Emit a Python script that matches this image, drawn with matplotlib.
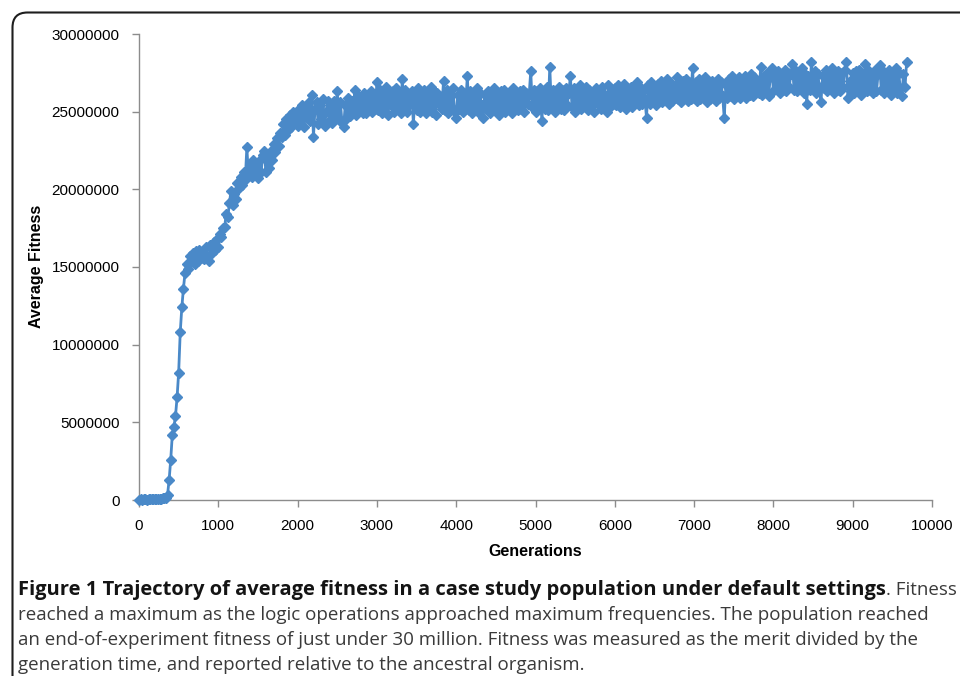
import matplotlib
matplotlib.use("Agg")
import matplotlib.pyplot as plt
from matplotlib.patches import FancyBboxPatch
from matplotlib.ticker import FuncFormatter

# Average fitness (in millions), one value every 20 generations
fit_0000 = [0.03, 0.05, 0.02, 0.06, 0.04, 0.03, 0.07, 0.05, 0.04, 0.06,
            0.05, 0.08, 0.06, 0.09, 0.07, 0.10, 0.12, 0.15, 0.35, 1.3,
            2.6, 4.2, 4.7, 5.4, 6.6, 8.2, 10.8, 12.4, 13.6, 14.6,
            15.2, 14.9, 15.7, 15.3, 15.9, 15.2, 16.0, 15.4, 16.1, 15.6,
            15.9, 15.5, 16.3, 15.7, 15.4, 16.4, 15.9, 16.6, 16.1, 16.8]
fit_1000 = [16.3, 17.1, 16.9, 17.5, 17.6, 18.4, 18.2, 19.1, 19.9, 19.0,
            19.7, 19.4, 20.4, 20.1, 20.8, 20.3, 21.1, 20.6, 22.7, 20.9,
            21.6, 20.8, 21.9, 21.0, 21.7, 20.7, 21.9, 21.1, 22.2, 22.5,
            21.1, 22.1, 21.4, 22.5, 21.9, 22.9, 22.4, 23.3, 22.8, 23.6,
            23.4, 24.2, 23.5, 24.5, 23.8, 24.8, 24.0, 25.0, 24.3, 24.9]
fit_2000 = [24.1, 25.2, 24.5, 25.4, 24.0, 25.3, 24.6, 25.6, 24.4, 26.1,
            23.4, 25.2, 25.6, 24.2, 25.4, 24.5, 25.8, 24.1, 25.0, 25.7,
            24.4, 25.5, 24.3, 25.7, 24.8, 26.3, 24.5, 25.6, 24.3, 24.0,
            25.4, 24.6, 25.9, 24.7, 25.7, 24.9, 26.4, 24.8, 26.0, 25.1,
            25.8, 24.9, 26.2, 24.9, 26.0, 25.3, 26.3, 25.0, 25.9, 25.2]
fit_3000 = [26.9, 25.1, 26.4, 24.9, 26.2, 25.3, 26.6, 24.8, 26.1, 25.4,
            26.3, 25.0, 26.5, 25.2, 26.2, 24.9, 27.1, 25.3, 26.4, 25.0,
            26.1, 25.5, 26.3, 24.2, 26.0, 25.1, 26.5, 25.0, 26.2, 25.4,
            26.4, 24.9, 26.1, 25.3, 26.6, 25.0, 26.3, 24.8, 26.2, 25.5,
            26.0, 25.2, 27.0, 25.1, 26.4, 24.9, 26.2, 25.3, 26.5, 25.0]
fit_4000 = [24.6, 26.1, 25.2, 26.4, 25.0, 26.2, 25.4, 27.3, 25.1, 26.3,
            24.9, 26.0, 25.3, 26.5, 25.0, 26.2, 25.4, 24.6, 26.1, 25.2,
            26.3, 24.9, 26.2, 25.3, 26.5, 25.1, 26.0, 24.8, 26.3, 25.2,
            26.4, 25.0, 26.2, 25.4, 26.1, 24.9, 26.5, 25.3, 26.0, 25.1,
            26.3, 25.2, 26.4, 25.0, 26.2, 25.5, 26.1, 27.6, 25.3, 26.4]
fit_5000 = [25.0, 26.3, 25.4, 26.5, 24.4, 26.2, 25.2, 26.6, 25.1, 27.9,
            25.3, 26.4, 25.0, 26.3, 25.5, 26.6, 25.2, 26.4, 25.1, 26.5,
            25.4, 26.2, 27.3, 25.3, 26.5, 25.0, 26.4, 25.4, 26.7, 25.2,
            26.3, 25.5, 26.6, 25.1, 26.4, 25.3, 26.2, 25.0, 26.5, 25.6,
            26.3, 25.2, 26.6, 25.4, 26.1, 25.0, 26.7, 25.3, 26.4, 25.5]
fit_6000 = [26.5, 25.4, 26.7, 25.3, 26.4, 25.6, 26.8, 25.2, 26.5, 25.5,
            26.6, 25.3, 26.4, 25.7, 26.9, 25.4, 26.6, 25.5, 26.3, 25.8,
            24.6, 26.7, 25.5, 26.9, 25.6, 26.5, 25.4, 26.8, 25.7, 27.0,
            25.6, 26.7, 25.8, 27.1, 25.5, 26.9, 25.7, 26.6, 25.9, 27.2,
            25.8, 26.8, 25.6, 27.0, 25.9, 27.1, 25.7, 26.9, 25.8, 27.8]
fit_7000 = [25.9, 26.9, 25.7, 27.1, 25.8, 26.8, 26.0, 27.2, 25.6, 26.9,
            25.8, 27.0, 26.1, 26.8, 25.7, 27.1, 25.9, 26.9, 26.0, 24.6,
            26.7, 25.9, 27.1, 26.0, 27.3, 25.8, 26.9, 26.1, 27.2, 25.9,
            27.0, 26.2, 27.3, 25.9, 27.1, 26.1, 27.4, 26.0, 27.2, 26.3,
            27.0, 26.2, 27.9, 26.1, 27.3, 26.4, 27.5, 26.0, 27.2, 27.8]
fit_8000 = [26.3, 27.4, 26.5, 27.6, 26.2, 27.3, 26.4, 27.7, 26.3, 27.5,
            26.6, 27.4, 28.1, 26.4, 27.6, 26.3, 27.5, 26.5, 27.8, 26.2,
            27.4, 25.5, 27.3, 26.4, 28.2, 26.5, 27.6, 26.2, 27.4, 26.6,
            25.6, 27.3, 26.5, 27.7, 26.3, 27.5, 26.6, 27.8, 26.2, 27.4,
            26.4, 27.6, 26.3, 27.5, 26.6, 27.7, 28.2, 25.9, 27.0, 26.3]
fit_9000 = [27.5, 26.2, 27.6, 26.4, 27.7, 26.1, 27.4, 26.5, 28.1, 26.3,
            27.6, 26.4, 27.5, 26.2, 27.7, 26.3, 27.4, 28.0, 26.4, 27.6,
            26.2, 27.5, 26.5, 27.7, 26.1, 27.4, 26.4, 27.8, 26.2, 27.5,
            26.5, 26.0, 27.4, 26.6, 28.2]

fitness_millions = (fit_0000 + fit_1000 + fit_2000 + fit_3000 + fit_4000 +
                    fit_5000 + fit_6000 + fit_7000 + fit_8000 + fit_9000)
generations = list(range(0, 20 * len(fitness_millions), 20))

x_ticks = [0, 1000, 2000, 3000, 4000, 5000, 6000, 7000, 8000, 9000, 10000]
y_ticks = [0, 5, 10, 15, 20, 25, 30]

caption_bold = "Figure 1 Trajectory of average fitness in a case study population under default settings"
caption_rest = ". Fitness"
caption_lines = [
    "reached a maximum as the logic operations approached maximum frequencies. The population reached",
    "an end-of-experiment fitness of just under 30 million. Fitness was measured as the merit divided by the",
    "generation time, and reported relative to the ancestral organism.",
]

W, H = 960, 676
fig = plt.figure(figsize=(W / 100, H / 100), dpi=100)
fig.patch.set_facecolor("white")

# rounded frame (display pixel coordinates, origin bottom-left)
frame = FancyBboxPatch((12.5, -60), 1100, H - 12.5 + 60,
                       boxstyle="round,pad=0,rounding_size=15",
                       transform=None, fill=False,
                       edgecolor="#1E1E1E", linewidth=1.5, clip_on=False)
fig.patches.append(frame)

ax = fig.add_axes([139 / W, 1 - 500 / H, (932 - 139) / W, (500 - 34) / H])
blue = "#4A89C8"
ax.plot(generations, fitness_millions, color=blue, linewidth=2.0,
        marker="D", markersize=5.5, markerfacecolor=blue,
        markeredgecolor=blue, clip_on=False, zorder=3)

ax.set_xlim(0, 10000)
ax.set_ylim(0, 30)
ax.set_xticks(x_ticks)
ax.set_yticks(y_ticks)
ax.yaxis.set_major_formatter(FuncFormatter(lambda v, p: f"{int(round(v * 1e6))}"))
for s in ["top", "right"]:
    ax.spines[s].set_visible(False)
for s in ["left", "bottom"]:
    ax.spines[s].set_color("#8C8C8C")
    ax.spines[s].set_linewidth(1.0)
ax.tick_params(axis="both", direction="out", length=5, width=1.0,
               color="#8C8C8C", labelsize=11, labelcolor="black")
ax.tick_params(axis="y", pad=9)
ax.tick_params(axis="x", pad=9)
for lbl in ax.get_xticklabels() + ax.get_yticklabels():
    lbl.set_fontfamily("Liberation Sans")

fig.text(37 / W, 1 - 266 / H, "Average Fitness", rotation=90, ha="center",
         va="center", fontsize=11.5, fontweight="bold", family="Liberation Sans")
fig.text(535 / W, 1 - 551 / H, "Generations", ha="center", va="center",
         fontsize=11.5, fontweight="bold", family="Liberation Sans")

cap_font = "Open Sans"
t1 = fig.text(18 / W, 1 - 595 / H, caption_bold, ha="left", va="baseline",
              fontsize=14.5, fontweight="bold", family=cap_font, color="#141414")
fig.canvas.draw()
r = fig.canvas.get_renderer()
bb = t1.get_window_extent(r)
fig.text(bb.x1 / W, 1 - 595 / H, caption_rest, ha="left", va="baseline",
         fontsize=13.5, family=cap_font, color="#3A3A3A")
for i, line in enumerate(caption_lines):
    fig.text(18 / W, 1 - (620 + 25 * i) / H, line, ha="left", va="baseline",
             fontsize=13.5, family=cap_font, color="#3A3A3A")

fig.savefig("out.png", dpi=100, facecolor="white")
